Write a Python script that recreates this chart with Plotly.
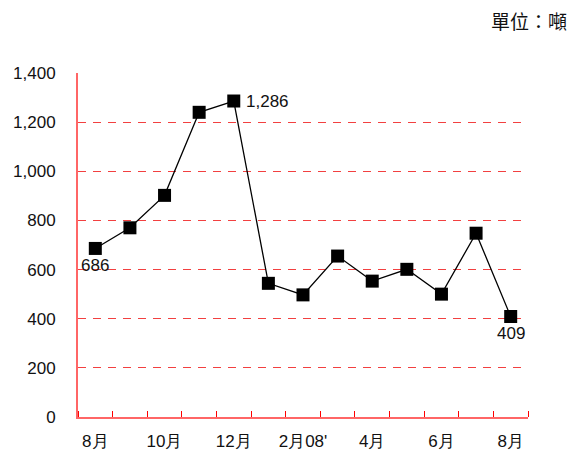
import plotly.graph_objects as go

months = ["8月", "9月", "10月", "11月", "12月", "1月", "2月08'", "3月", "4月", "5月", "6月", "7月", "8月 "]
values = [686, 770, 902, 1240, 1286, 544, 497, 655, 553, 601, 500, 748, 409]
tick_idx = [0, 2, 4, 6, 8, 10, 12]
tick_text = ["8月", "10月", "12月", "2月08'", "4月", "6月", "8月"]
y_ticks = [0, 200, 400, 600, 800, 1000, 1200, 1400]
y_tick_text = ["0", "200", "400", "600", "800", "1,000", "1,200", "1,400"]

x = list(range(len(values)))

fig = go.Figure()
fig.add_trace(go.Scatter(
    x=x, y=values, mode="lines+markers",
    line=dict(color="black", width=1.3),
    marker=dict(symbol="square", size=13, color="black"),
    hoverinfo="skip", showlegend=False,
))

font_main = dict(family="Liberation Sans, Arial, sans-serif", size=17, color="#111111")

fig.add_annotation(x=0, y=values[0], text="686", showarrow=False, yshift=-17, font=font_main)
fig.add_annotation(x=4, y=values[4], text="1,286", showarrow=False, xanchor="left", xshift=10, font=font_main)
fig.add_annotation(x=12, y=values[12], text="409", showarrow=False, yshift=-17, font=font_main)
fig.add_annotation(xref="paper", yref="paper", x=1.091, y=1.153, xanchor="right", yanchor="middle",
                   text="單位：噸", showarrow=False,
                   font=dict(family="Noto Sans CJK TC, sans-serif", size=19, color="#111111"))

fig.update_layout(
    width=579, height=456,
    margin=dict(l=78, r=51, t=73, b=39, autoexpand=False),
    paper_bgcolor="white", plot_bgcolor="white",
    font=font_main,
)
fig.update_xaxes(
    range=[-0.5, 12.5], tickmode="array", tickvals=tick_idx, ticktext=tick_text,
    ticks="", showgrid=False, zeroline=False, automargin=False,
    showline=True, linecolor="rgba(255,0,0,0.6)", linewidth=2,
    ticklabelstandoff=8,
    minor=dict(tickmode="array", tickvals=[i - 0.5 for i in range(14)], ticks="inside",
               ticklen=6, tickcolor="red", tickwidth=1, showgrid=False),
    tickfont=font_main,
)
fig.update_yaxes(
    range=[0, 1400], tickmode="array", tickvals=y_ticks, ticktext=y_tick_text,
    ticks="", showgrid=True, gridcolor="rgba(240,30,30,0.85)", griddash="8px,7px", gridwidth=1,
    zeroline=False, automargin=False, showline=True, linecolor="rgba(255,0,0,0.6)", linewidth=2,
    ticklabelstandoff=17, tickfont=font_main,
)

fig.write_html("out.html", config={"displayModeBar": False},
               post_script="document.body.style.margin='0';")
